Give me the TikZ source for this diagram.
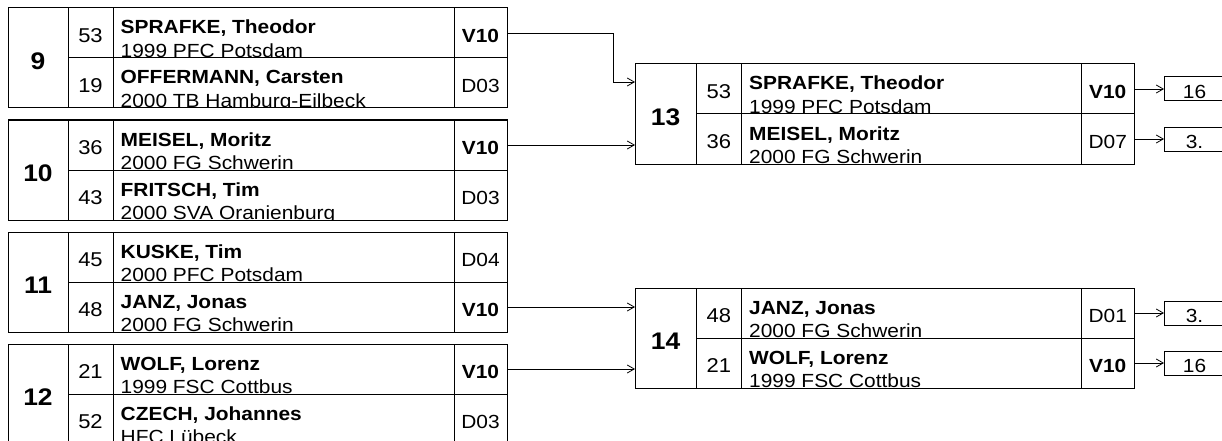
\documentclass[tikz,border=0pt]{standalone}
\usepackage{fontspec}
\setmainfont{Liberation Sans}[FakeStretch=1.1]
\usetikzlibrary{arrows.meta}
\newcommand\geom[5]{\def\gA{#1}\def\gB{#2}\def\gC{#3}\def\gD{#4}\def\gE{#5}}
\newcommand\mblock[3]{%
  \node[cell, minimum width={(\gB-\gA)*1pt}, minimum height=100pt] (#1) at (\gA,#2) {};
  \node[numtxt] (#1t) at ([yshift=-61.3pt]#1.north) {#3};
}
\newcommand\mrow[6]{%
  \node[cell, minimum width={(\gC-\gB)*1pt}, minimum height=50pt] (#1s) at (\gB,#2) {};
  \node[cell, minimum width={(\gD-\gC)*1pt}, minimum height=50pt] (#1n) at (\gC,#2) {};
  \node[cell, minimum width={(\gE-\gD)*1pt}, minimum height=50pt] (#1) at (\gD,#2) {};
  \node[seedtxt] (#1st) at ([yshift=-34.7pt]#1s.north) {#3};
  \begin{scope}
    \clip (#1n.north west) rectangle (#1n.south east);
    \node[nametxt] (#1nt) at ([xshift=7.5pt,yshift=-26pt]#1n.north west) {#4};
    \node[clubtxt] (#1ct) at ([xshift=7.5pt,yshift=-49.5pt]#1n.north west) {#5};
  \end{scope}
  \node[restxt] (#1rt) at ([yshift=-34.3pt]#1.north) {#6};
}
\begin{document}
\begin{tikzpicture}[x=1pt,y=-1pt,
  cell/.style={draw, line width=1pt, inner sep=0pt, outer sep=0pt, anchor=north west},
  numtxt/.style={anchor=base, inner sep=0pt, font=\fontsize{24}{26}\selectfont\bfseries},
  seedtxt/.style={anchor=base, inner sep=0pt, font=\fontsize{20}{22}\selectfont},
  nametxt/.style={anchor=base west, inner sep=0pt, font=\fontsize{19}{22}\selectfont\bfseries},
  clubtxt/.style={anchor=base west, inner sep=0pt, font=\fontsize{19}{22}\selectfont},
  restxt/.style={anchor=base, inner sep=0pt, font=\fontsize{19}{22}\selectfont},
  resbox/.style={draw, line width=1pt, inner sep=0pt, outer sep=0pt, anchor=west, minimum width=61pt, minimum height=24pt},
  conn/.style={line width=0.8pt, -{Straight Barb[length=7pt,width=8pt]}}]
\useasboundingbox (0,0) rectangle (1222,441);
\clip (0,0) rectangle (1222,441);

% left column
\geom{8}{68}{113}{454}{507}
\mblock{b9}{8}{9}
\mrow{b9a}{8}{53}{SPRAFKE, Theodor}{1999 PFC Potsdam}{\bfseries V10}
\mrow{b9b}{58}{19}{OFFERMANN, Carsten}{2000 TB Hamburg-Eilbeck}{D03}
\mblock{b10}{120}{10}
\mrow{b10a}{120}{36}{MEISEL, Moritz}{2000 FG Schwerin}{\bfseries V10}
\mrow{b10b}{170}{43}{FRITSCH, Tim}{2000 SVA Oranienburg}{D03}
\mblock{b11}{232}{11}
\mrow{b11a}{232}{45}{KUSKE, Tim}{2000 PFC Potsdam}{D04}
\mrow{b11b}{282}{48}{JANZ, Jonas}{2000 FG Schwerin}{\bfseries V10}
\mblock{b12}{344}{12}
\mrow{b12a}{344}{21}{WOLF, Lorenz}{1999 FSC Cottbus}{\bfseries V10}
\mrow{b12b}{394}{52}{CZECH, Johannes}{HFC Lübeck}{D03}

% right column
\geom{635}{696}{741.5}{1081.5}{1134}
\mblock{b13}{64}{13}
\mrow{b13a}{64}{53}{SPRAFKE, Theodor}{1999 PFC Potsdam}{\bfseries V10}
\mrow{b13b}{114}{36}{MEISEL, Moritz}{2000 FG Schwerin}{D07}
\mblock{b14}{288}{14}
\mrow{b14a}{288}{48}{JANZ, Jonas}{2000 FG Schwerin}{D01}
\mrow{b14b}{338}{21}{WOLF, Lorenz}{1999 FSC Cottbus}{\bfseries V10}

% result boxes
\node[resbox] (o13a) at (1164,89) {};
\node[restxt] (o13at) at ([yshift=-9.3pt]o13a.center) {16};
\node[resbox] (o13b) at (1164,139) {};
\node[restxt] (o13bt) at ([yshift=-9.3pt]o13b.center) {3.};
\node[resbox] (o14a) at (1164,313) {};
\node[restxt] (o14at) at ([yshift=-9.3pt]o14a.center) {3.};
\node[resbox] (o14b) at (1164,363) {};
\node[restxt] (o14bt) at ([yshift=-9.3pt]o14b.center) {16};

% connectors
\coordinate (in13a) at ([yshift=-18pt]b13.north west);
\draw[conn] (b9a.east) -| ([xshift=-22pt]in13a) -- (in13a);
\draw[conn] (b10a.east) -- (b10a.east -| b13.west);
\draw[conn] (b11b.east) -- (b11b.east -| b14.west);
\draw[conn] (b12a.east) -- (b12a.east -| b14.west);
\draw[conn] (b13a.east) -- (o13a.west);
\draw[conn] (b13b.east) -- (o13b.west);
\draw[conn] (b14a.east) -- (o14a.west);
\draw[conn] (b14b.east) -- (o14b.west);
\end{tikzpicture}
\end{document}
